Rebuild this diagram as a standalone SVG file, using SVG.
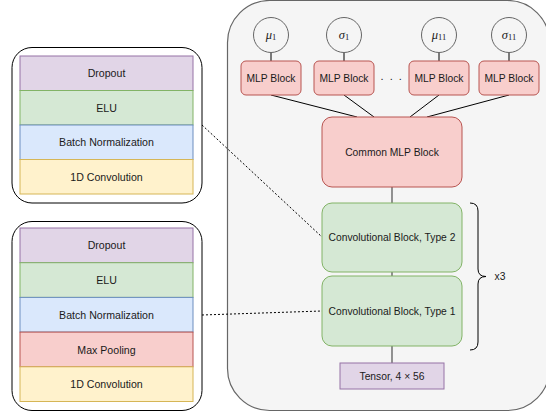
<svg xmlns="http://www.w3.org/2000/svg" width="546" height="414" viewBox="0 0 546 414">
  <style>
    text { font-family: "Liberation Sans", Arial, sans-serif; font-size: 10.3px; fill: #1a1a1a; text-anchor: middle; dominant-baseline: central; }
    .lt { font-size: 10.6px; }
    .math { font-family: "Liberation Serif", "DejaVu Serif", serif; font-style: italic; font-size: 12.5px; }
    .sub { font-family: "Liberation Serif", "DejaVu Serif", serif; font-style: normal; font-size: 8.5px; }
    .panel { fill: #ffffff; stroke: #000000; stroke-width: 1; }
    .red { fill: #f8cecc; stroke: #b85450; stroke-width: 1; }
    .green { fill: #d5e8d4; stroke: #82b366; stroke-width: 1; }
    .blue { fill: #dae8fc; stroke: #6c8ebf; stroke-width: 1; }
    .yellow { fill: #fff2cc; stroke: #d6b656; stroke-width: 1; }
    .purple { fill: #e1d5e7; stroke: #9673a6; stroke-width: 1; }
    .circ { fill: #f5f5f5; stroke: #666666; stroke-width: 1; }
    .edge { fill: none; stroke: #000000; stroke-width: 1; }
    .edge-grey { fill: none; stroke: #4d4d4d; stroke-width: 1.2; }
    .dash { fill: none; stroke: #000000; stroke-width: 1; stroke-dasharray: 2 2; }
  </style>

  <!-- model container -->
  <g id="container">
    <rect x="227.5" y="0.5" width="322" height="410" rx="42" ry="42" fill="#f5f5f5" stroke="#666666" stroke-width="1.2"/>
  </g>

  <!-- detail panel: convolutional block, type 2 -->
  <g id="panel-type2">
    <rect class="panel" x="12" y="47.5" width="190" height="155.5" rx="20" ry="20"/>
    <rect class="purple" x="20" y="56" width="173" height="34.5"/>
    <text class="lt" x="106.5" y="73.3">Dropout</text>
    <rect class="green" x="20" y="90.5" width="173" height="34.5"/>
    <text class="lt" x="106.5" y="107.8">ELU</text>
    <rect class="blue" x="20" y="125" width="173" height="34.5"/>
    <text class="lt" x="106.5" y="142.3">Batch Normalization</text>
    <rect class="yellow" x="20" y="159.5" width="173" height="34.5"/>
    <text class="lt" x="106.5" y="176.8">1D Convolution</text>
  </g>

  <!-- detail panel: convolutional block, type 1 -->
  <g id="panel-type1">
    <rect class="panel" x="12" y="221.5" width="190" height="189" rx="20" ry="20"/>
    <rect class="purple" x="20" y="228" width="173" height="34.7"/>
    <text class="lt" x="106.5" y="245.4">Dropout</text>
    <rect class="green" x="20" y="262.7" width="173" height="34.7"/>
    <text class="lt" x="106.5" y="280.1">ELU</text>
    <rect class="blue" x="20" y="297.4" width="173" height="34.7"/>
    <text class="lt" x="106.5" y="314.8">Batch Normalization</text>
    <rect class="red" x="20" y="332.1" width="173" height="34.7"/>
    <text class="lt" x="106.5" y="349.5">Max Pooling</text>
    <rect class="yellow" x="20" y="366.8" width="173" height="34.7"/>
    <text class="lt" x="106.5" y="384.2">1D Convolution</text>
  </g>

  <!-- connectors -->
  <g id="connectors">
    <line class="edge" x1="271" y1="52.5" x2="271" y2="61"/>
    <line class="edge" x1="344" y1="52.5" x2="344" y2="61"/>
    <line class="edge" x1="439" y1="52.5" x2="439" y2="61"/>
    <line class="edge" x1="509" y1="52.5" x2="509" y2="61"/>
    <line class="edge" x1="271" y1="95" x2="357" y2="117"/>
    <line class="edge" x1="344" y1="95" x2="374" y2="117"/>
    <line class="edge" x1="439" y1="95" x2="410" y2="117"/>
    <line class="edge" x1="509" y1="95" x2="427" y2="117"/>
    <line class="edge-grey" x1="392" y1="187" x2="392" y2="203"/>
    <line class="edge-grey" x1="392" y1="272" x2="392" y2="276"/>
    <line class="edge-grey" x1="392" y1="346" x2="392" y2="363"/>
    <line class="dash" x1="202" y1="125" x2="322" y2="237"/>
    <line class="dash" x1="202" y1="315" x2="322" y2="311"/>
  </g>

  <!-- output nodes -->
  <g id="mu1">
    <circle class="circ" cx="271" cy="35" r="17.5"/>
    <text x="271" y="35"><tspan class="math">μ</tspan><tspan class="sub" dy="2">1</tspan></text>
  </g>
  <g id="sigma1">
    <circle class="circ" cx="344" cy="35" r="17.5"/>
    <text x="344" y="35"><tspan class="math">σ</tspan><tspan class="sub" dy="2">1</tspan></text>
  </g>
  <g id="mu11">
    <circle class="circ" cx="439" cy="35" r="17.5"/>
    <text x="439" y="35"><tspan class="math">μ</tspan><tspan class="sub" dy="2">11</tspan></text>
  </g>
  <g id="sigma11">
    <circle class="circ" cx="509" cy="35" r="17.5"/>
    <text x="509" y="35"><tspan class="math">σ</tspan><tspan class="sub" dy="2">11</tspan></text>
  </g>

  <!-- MLP heads -->
  <g id="mlp1">
    <rect class="red" x="241" y="61" width="60" height="34" rx="5" ry="5"/>
    <text x="271" y="78">MLP Block</text>
  </g>
  <g id="mlp2">
    <rect class="red" x="314" y="61" width="60" height="34" rx="5" ry="5"/>
    <text x="344" y="78">MLP Block</text>
  </g>
  <g id="ellipsis">
    <text x="392" y="76" style="font-size:11px; letter-spacing:1.5px">. . .</text>
  </g>
  <g id="mlp3">
    <rect class="red" x="409" y="61" width="60" height="34" rx="5" ry="5"/>
    <text x="439" y="78">MLP Block</text>
  </g>
  <g id="mlp4">
    <rect class="red" x="479" y="61" width="60" height="34" rx="5" ry="5"/>
    <text x="509" y="78">MLP Block</text>
  </g>

  <!-- trunk -->
  <g id="common-mlp">
    <rect class="red" x="322" y="117" width="140" height="70" rx="10" ry="10"/>
    <text x="392" y="152">Common MLP Block</text>
  </g>
  <g id="conv-type2">
    <rect class="green" x="322" y="203" width="140" height="69" rx="10" ry="10"/>
    <text x="392" y="237.5">Convolutional Block, Type 2</text>
  </g>
  <g id="conv-type1">
    <rect class="green" x="322" y="276" width="140" height="70" rx="10" ry="10"/>
    <text x="392" y="311">Convolutional Block, Type 1</text>
  </g>
  <g id="tensor">
    <rect class="purple" x="340" y="363" width="104" height="26"/>
    <text x="392" y="376">Tensor, 4 × 56</text>
  </g>

  <!-- repeat brace -->
  <g id="repeat">
    <path class="edge" d="M470,203 Q478,203 478,211 L478,269 Q478,276.5 486,276.5 Q478,276.5 478,284 L478,342 Q478,350 470,350"/>
    <text x="500" y="276.5">x3</text>
  </g>
</svg>
